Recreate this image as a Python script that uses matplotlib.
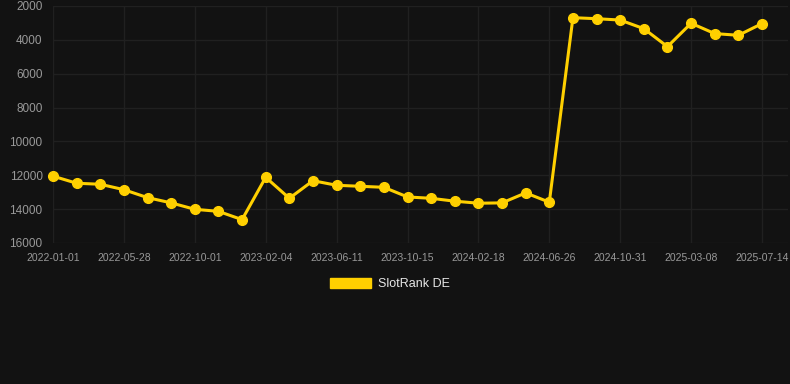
import matplotlib
matplotlib.use("Agg")
import matplotlib.pyplot as plt
from matplotlib.patches import Patch

plt.rcParams["font.family"] = ["Liberation Sans", "DejaVu Sans"]

dates = [
    "2022-01-01", "2022-02-19", "2022-04-09", "2022-05-28", "2022-07-09",
    "2022-08-20", "2022-10-01", "2022-11-12", "2022-12-24", "2023-02-04",
    "2023-03-18", "2023-04-30", "2023-06-11", "2023-07-23", "2023-09-03",
    "2023-10-15", "2023-11-26", "2024-01-07", "2024-02-18", "2024-04-05",
    "2024-05-16", "2024-06-26", "2024-08-07", "2024-09-19", "2024-10-31",
    "2024-12-12", "2025-01-24", "2025-03-08", "2025-04-19", "2025-06-01",
    "2025-07-14",
]
rank_de = [
    12050, 12470, 12530, 12850, 13320, 13630, 14010, 14130, 14620, 12120,
    13360, 12320, 12590, 12650, 12710, 13280, 13360, 13530, 13650, 13630,
    13040, 13590, 2690, 2750, 2830, 3340, 4400, 3020, 3630, 3730, 3040,
]
yticks = [2000, 4000, 6000, 8000, 10000, 12000, 14000, 16000]

BG = "#121212"
GOLD = "#FFD000"
GRID = "#202020"
TXT = "#999999"

fig = plt.figure(figsize=(7.9, 3.84), dpi=100, facecolor=BG)
ax = fig.add_axes([53 / 790, 1 - 243 / 384, (788 - 53) / 790, (243 - 6) / 384])
ax.set_facecolor(BG)

x = list(range(len(dates)))
ax.plot(x, rank_de, color=GOLD, lw=2.2, marker="o", ms=7, mfc=GOLD,
        mec=GOLD, clip_on=False, zorder=3)

ax.set_ylim(16000, 2000)
ax.set_yticks(yticks)
ax.set_yticklabels([str(v) for v in yticks])
ax.set_xlim(0, 31.1)
ax.set_xticks(x[::3])
ax.set_xticklabels(dates[::3])

ax.grid(True, color=GRID, lw=1.0)
for s in ax.spines.values():
    s.set_visible(False)
ax.tick_params(axis="y", length=0, pad=7.5, labelsize=8.5, labelcolor=TXT)
ax.tick_params(axis="x", length=0, pad=7, labelsize=7.5, labelcolor=TXT)

leg = fig.legend(handles=[Patch(color=GOLD, label="SlotRank DE")],
                 loc="center", bbox_to_anchor=(390 / 790, 1 - 284 / 384),
                 frameon=False, fontsize=9, handlelength=3.3, handleheight=0.9,
                 handletextpad=0.6)
for t in leg.get_texts():
    t.set_color("#e6e6e6")

fig.savefig("out.png", dpi=100, facecolor=BG)
